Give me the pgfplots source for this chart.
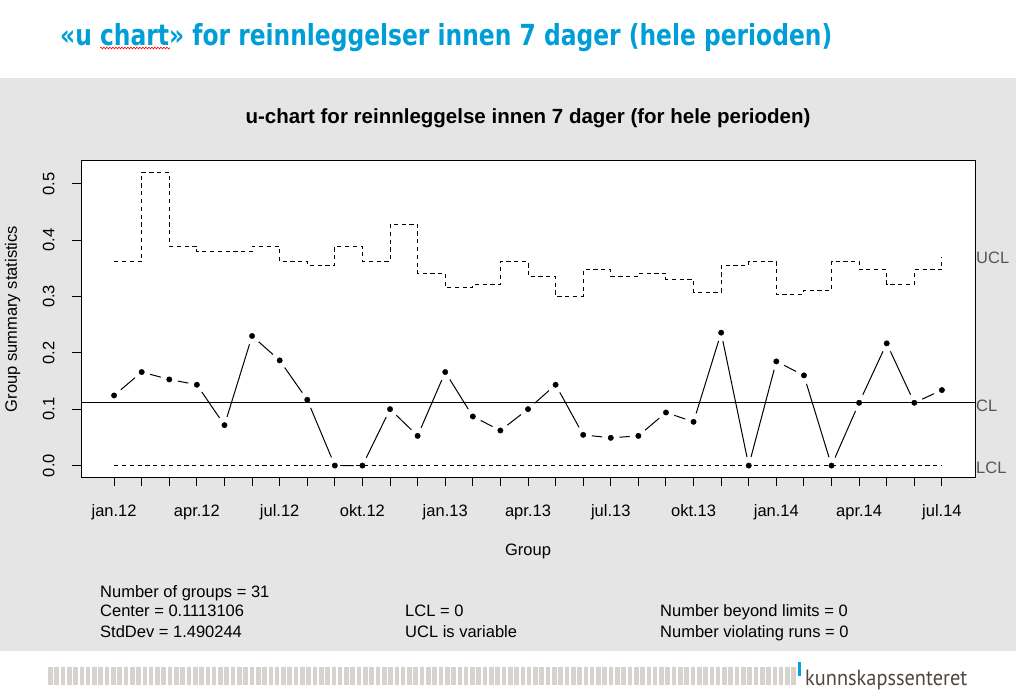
\documentclass[border=0pt]{standalone}
\usepackage{fontspec}
\setmainfont{Liberation Sans}
\newfontfamily\titlefont{DejaVu Sans}
\newfontfamily\logofont{PT Sans}
\usepackage{pgfplots}
\pgfplotsset{compat=1.18}
\usepackage{pgfplotstable}
\usetikzlibrary{decorations.pathmorphing}
\definecolor{panel}{HTML}{E5E5E5}
\definecolor{titleblue}{RGB}{0,158,214}
\definecolor{stripe}{HTML}{D6D2CE}
\definecolor{logotext}{HTML}{4F4742}
\definecolor{logoblue}{HTML}{00A3E0}
\definecolor{lbl}{HTML}{555555}

\pgfplotstableread{
x u ucl lcl
1 0.1244 0.3620 0
2 0.1659 0.5207 0
3 0.1528 0.3892 0
4 0.1434 0.3791 0
5 0.0717 0.3791 0
6 0.2299 0.3892 0
7 0.1866 0.3620 0
8 0.1167 0.3549 0
9 0 0.3892 0
10 0 0.3620 0
11 0.1001 0.4283 0
12 0.0527 0.3412 0
13 0.1659 0.3152 0
14 0.0871 0.3211 0
15 0.0622 0.3620 0
16 0.1001 0.3359 0
17 0.1434 0.3004 0
18 0.0545 0.3472 0
19 0.0492 0.3359 0
20 0.0527 0.3412 0
21 0.0942 0.3306 0
22 0.0776 0.3075 0
23 0.2358 0.3549 0
24 0 0.3620 0
25 0.1848 0.3039 0
26 0.1600 0.3110 0
27 0 0.3620 0
28 0.1114 0.3472 0
29 0.2168 0.3211 0
30 0.1114 0.3472 0
31 0.1339 0.3703 0
}\uchart

\newsavebox\tbox
\newcommand\fitto[2]{\sbox\tbox{#2}\pgfmathsetmacro\fitratio{#1/\the\wd\tbox}\scalebox{\fitratio}[1]{\usebox\tbox}}
\newcommand\rfont{\fontsize{16.5bp}{19bp}\selectfont}

\begin{document}
\begin{tikzpicture}
\useasboundingbox (0,0) rectangle (1016bp,-696bp);
\fill[white] (0,0) rectangle (1016bp,-696bp);
\fill[panel] (0,-78bp) rectangle (1016bp,-651bp);

% slide title
\node[anchor=base west, inner sep=0, text=titleblue] at (60bp,-45bp)
  {\fitto{772bp}{\titlefont\bfseries\fontsize{29bp}{32bp}\selectfont «u chart» for reinnleggelser innen 7 dager (hele perioden)}};
\draw[red, line width=0.6bp, decorate, decoration={snake, amplitude=0.9bp, segment length=3bp}] (100bp,-48bp) -- (170bp,-48bp);

\begin{axis}[
  at={(81bp,-477.3bp)}, anchor=south west,
  scale only axis, width=894bp, height=316.6bp,
  xmin=-0.2, xmax=32.2, ymin=-0.0208, ymax=0.5408,
  clip mode=individual,
  axis background/.style={fill=white},
  axis line style={black, line width=1bp},
  xtick={1,...,31},
  xticklabels={jan.12,,,apr.12,,,jul.12,,,okt.12,,,jan.13,,,apr.13,,,jul.13,,,okt.13,,,jan.14,,,apr.14,,,jul.14},
  ytick={0,0.1,0.2,0.3,0.4,0.5},
  yticklabels={0.0,0.1,0.2,0.3,0.4,0.5},
  tick align=outside, xtick pos=left, ytick pos=left,
  major tick length=9bp,
  every tick/.style={black, line width=1bp},
  tick label style={font=\rfont, text=black},
  xticklabel style={anchor=base, inner sep=0pt},
  xticklabel shift=29.7bp,
  yticklabel style={rotate=90, anchor=base, inner sep=0pt},
  yticklabel shift=17.5bp,
  xlabel={Group},
  xlabel style={at={([yshift=-77.7bp]axis description cs:0.5,0)}, anchor=base, font=\rfont, inner sep=0pt},
  ylabel={Group summary statistics},
  ylabel style={at={([xshift=-64bp]axis description cs:0,0.5)}, anchor=base, rotate=0, font=\rfont, inner sep=0pt},
  title={u-chart for reinnleggelse innen 7 dager (for hele perioden)},
  title style={at={([yshift=31.7bp]axis description cs:0.5,1)}, anchor=base, font=\fontsize{20.5bp}{24bp}\selectfont\bfseries, inner sep=0pt},
]
% data line
\addplot[black, line width=1bp] table[x=x, y=u] {\uchart};
% gaps around points (type "b")
\addplot[white, only marks, mark=*, mark size=8.5bp, mark options={fill=white, draw=white}] table[x=x, y=u] {\uchart};
% UCL
\addplot[const plot, black, line width=1bp, dash pattern=on 4.2bp off 3.6bp] table[x=x, y=ucl] {\uchart};
% LCL
\addplot[const plot, black, line width=1bp, dash pattern=on 4.2bp off 3.6bp] table[x=x, y=lcl] {\uchart};
% CL
\addplot[black, line width=1bp] coordinates {(-0.2,0.1113106) (32.2,0.1113106)};
% points
\addplot[black, only marks, mark=*, mark size=2.7bp, mark options={fill=black, draw=black}] table[x=x, y=u] {\uchart};

\node[anchor=west, inner sep=1bp, text=lbl, font=\rfont] at (axis cs:32.2,0.369) {UCL};
\node[anchor=west, inner sep=1bp, text=lbl, font=\rfont] at (axis cs:32.2,0.1066) {CL};
\node[anchor=west, inner sep=1bp, text=lbl, font=\rfont] at (axis cs:32.2,-0.0036) {LCL};
\end{axis}

% summary statistics
\begin{scope}[every node/.style={anchor=base west, inner sep=0pt, font=\rfont}]
\node at (100bp,-597bp) {Number of groups = 31};
\node at (100bp,-616.5bp) {Center = 0.1113106};
\node at (100bp,-637bp) {StdDev = 1.490244};
\node at (405bp,-616.5bp) {LCL = 0};
\node at (405bp,-637bp) {UCL is variable};
\node at (660bp,-616.5bp) {Number beyond limits = 0};
\node at (660bp,-637bp) {Number violating runs = 0};
\end{scope}

% footer
\foreach \i in {0,...,118}{
  \fill[stripe] ({(48+6.3*\i)*1bp},-667bp) rectangle ({(52.6+6.3*\i)*1bp},-685bp);
}
\fill[logoblue] (798bp,-662bp) rectangle (801bp,-676bp);
\node[anchor=base west, inner sep=0, text=logotext] at (805bp,-685.5bp)
  {\fitto{162bp}{\logofont\fontsize{22bp}{24bp}\selectfont kunnskapssenteret}};
\end{tikzpicture}
\end{document}
